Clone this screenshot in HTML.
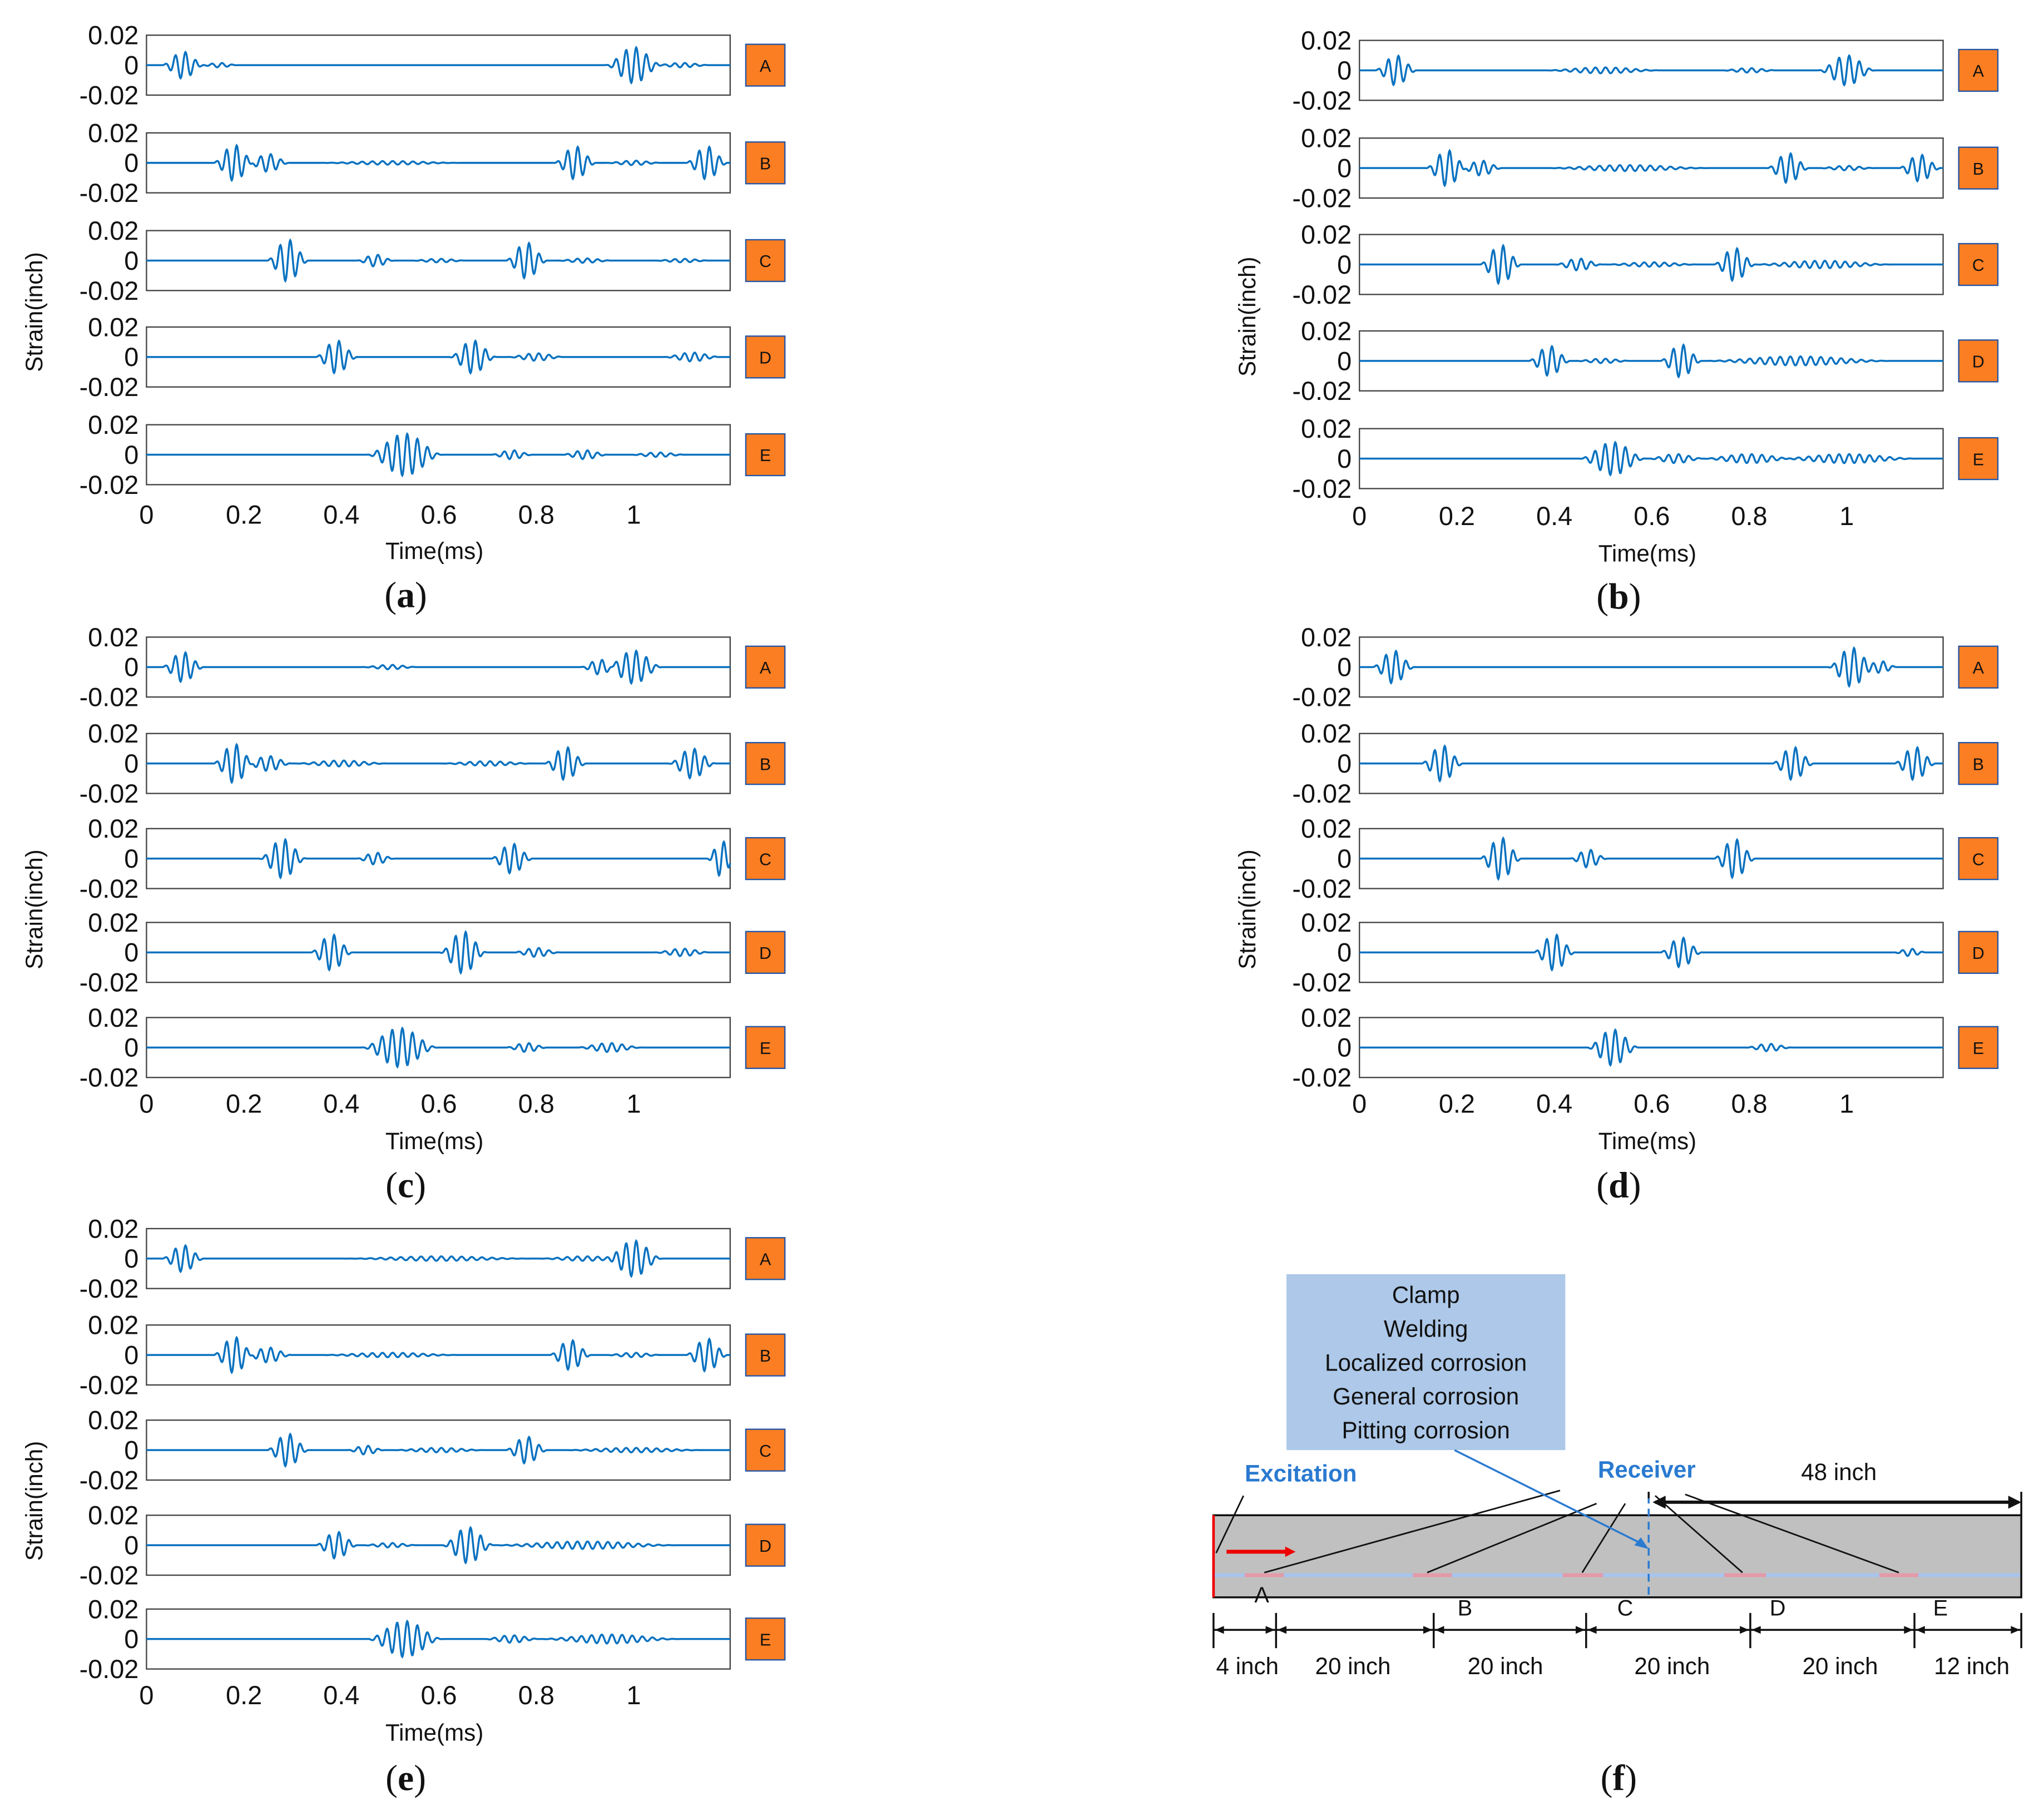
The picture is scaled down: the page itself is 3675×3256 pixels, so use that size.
<!DOCTYPE html>
<html><head><meta charset="utf-8"><style>
html,body{margin:0;padding:0;background:#fff}
svg{display:block}
text{font-family:"Liberation Sans",sans-serif}
.cap{font-family:"Liberation Serif",serif}
</style></head><body>
<svg id="fig" width="3675" height="3256" viewBox="0 0 1568 1390" xmlns="http://www.w3.org/2000/svg">
<rect width="1568" height="1390" fill="#fff"/>
<g id="plots"></g>
<g id="diagram">
  <rect x="987" y="978" width="214" height="135" fill="#adc8e8"/>
  <g font-size="18" text-anchor="middle" fill="#111">
    <text x="1094" y="1000">Clamp</text>
    <text x="1094" y="1026">Welding</text>
    <text x="1094" y="1052">Localized corrosion</text>
    <text x="1094" y="1078">General corrosion</text>
    <text x="1094" y="1104">Pitting corrosion</text>
  </g>
  <rect x="931" y="1163" width="620" height="63" fill="#c0c0c0" stroke="#111" stroke-width="1.5"/>
  <line x1="931" y1="1163" x2="931" y2="1226" stroke="#e00" stroke-width="2"/>
  <line x1="932" y1="1209" x2="1550" y2="1209" stroke="#a8c4ec" stroke-width="3"/>
  <g fill="#e39aab">
    <rect x="955" y="1207.5" width="30" height="3"/>
    <rect x="1084" y="1207.5" width="30" height="3"/>
    <rect x="1199" y="1207.5" width="31" height="3"/>
    <rect x="1323" y="1207.5" width="32" height="3"/>
    <rect x="1442" y="1207.5" width="30" height="3"/>
  </g>
  <line x1="941" y1="1191" x2="987" y2="1191" stroke="#e00" stroke-width="3"/>
  <polygon points="994,1191 986,1187 986,1195" fill="#e00"/>
  <line x1="1265" y1="1148" x2="1265" y2="1226" stroke="#2a7ad0" stroke-width="1.5" stroke-dasharray="6,4"/>
  <g stroke="#111" stroke-width="1.2">
    <line x1="1197" y1="1144" x2="970" y2="1207"/><line x1="1225" y1="1154" x2="1095" y2="1207"/>
    <line x1="1247" y1="1154" x2="1214" y2="1207"/><line x1="1270" y1="1148" x2="1337" y2="1207"/>
    <line x1="1293" y1="1147" x2="1457" y2="1207"/><line x1="954" y1="1148" x2="933" y2="1192"/>
  </g>
  <line x1="1116" y1="1113" x2="1262" y2="1186" stroke="#2a7ad0" stroke-width="1.5"/>
  <polygon points="1265,1189 1254,1186 1259,1180" fill="#2a7ad0"/>
  <line x1="1270" y1="1153" x2="1549" y2="1153" stroke="#111" stroke-width="2.5"/>
  <line x1="1551" y1="1145" x2="1551" y2="1163" stroke="#111" stroke-width="1.5"/>
  <line x1="1265" y1="1145" x2="1265" y2="1150" stroke="#111" stroke-width="1.5"/>
  <text x="955" y="1137" font-size="18" font-weight="bold" fill="#2a7ad0">Excitation</text>
  <text x="1226" y="1134" font-size="18" font-weight="bold" fill="#2a7ad0">Receiver</text>
  <text x="1411" y="1136" font-size="18" text-anchor="middle" fill="#111">48 inch</text>
  <g font-size="17" fill="#111" text-anchor="middle">
    <text x="968" y="1230">A</text><text x="1124" y="1240">B</text><text x="1247" y="1240">C</text><text x="1364" y="1240">D</text><text x="1489" y="1240">E</text>
  </g>
  <g id="dims" stroke="#111" stroke-width="1.5"></g>
  <g font-size="18" fill="#111" text-anchor="middle">
    <text x="957" y="1285">4 inch</text><text x="1038" y="1285">20 inch</text><text x="1155" y="1285">20 inch</text>
    <text x="1283" y="1285">20 inch</text><text x="1412" y="1285">20 inch</text><text x="1513" y="1285">12 inch</text>
  </g>
</g>
</svg>
<script>
const NS="http://www.w3.org/2000/svg";
const xTickValues=[0,0.2,0.4,0.6,0.8,1];
const xTickLabels=["0","0.2","0.4","0.6","0.8","1"];
const yTickValues=[0.02,0,-0.02];
const yTickLabels=["0.02","0","-0.02"];
const rowNames=["A","B","C","D","E"];
const panelLetters=["a","b","c","d","e"];
// wave packets: [center time ms, amplitude, width ms]
const packetsA=[
 [[0.075,0.009,0.09],[0.15,0.0015,0.08],[1.0,0.012,0.12],[1.1,0.0015,0.12]],
 [[0.18,0.012,0.09],[0.25,0.006,0.09],[0.5,0.0012,0.3],[0.88,0.011,0.09],[1.0,0.0015,0.12],[1.15,0.011,0.09]],
 [[0.29,0.014,0.09],[0.47,0.004,0.08],[0.6,0.0012,0.12],[0.78,0.012,0.09],[0.9,0.0015,0.12],[1.1,0.0012,0.12]],
 [[0.39,0.011,0.09],[0.67,0.011,0.1],[0.8,0.0025,0.12],[1.12,0.003,0.12]],
 [[0.53,0.014,0.16],[0.75,0.003,0.09],[0.9,0.003,0.1],[1.05,0.0015,0.12]]];
const packetsB=[
 [[0.075,0.01,0.09],[0.5,0.002,0.25],[0.8,0.0015,0.12],[1.0,0.01,0.12]],
 [[0.18,0.012,0.09],[0.25,0.005,0.09],[0.55,0.002,0.35],[0.88,0.01,0.09],[1.0,0.0015,0.12],[1.15,0.009,0.09]],
 [[0.29,0.013,0.09],[0.45,0.004,0.1],[0.6,0.0015,0.2],[0.77,0.011,0.09],[0.95,0.0025,0.3]],
 [[0.39,0.01,0.09],[0.5,0.0015,0.12],[0.66,0.011,0.09],[0.9,0.003,0.4]],
 [[0.52,0.011,0.14],[0.65,0.003,0.12],[0.8,0.003,0.2],[1.0,0.003,0.3]]];
const packetsC=[
 [[0.075,0.01,0.09],[0.5,0.0015,0.12],[1.0,0.011,0.12],[0.93,0.005,0.08]],
 [[0.18,0.013,0.09],[0.25,0.005,0.1],[0.4,0.002,0.2],[0.86,0.011,0.09],[0.7,0.0015,0.2],[1.12,0.01,0.1]],
 [[0.28,0.013,0.1],[0.47,0.004,0.08],[0.75,0.01,0.09],[1.18,0.012,0.06]],
 [[0.38,0.012,0.09],[0.65,0.014,0.1],[0.8,0.003,0.1],[1.1,0.0025,0.12]],
 [[0.52,0.013,0.16],[0.78,0.003,0.09],[0.95,0.003,0.14]]];
const packetsD=[
 [[0.07,0.011,0.09],[1.01,0.013,0.1],[1.07,0.004,0.07]],
 [[0.17,0.012,0.09],[0.89,0.011,0.09],[1.14,0.011,0.09]],
 [[0.29,0.014,0.09],[0.47,0.006,0.08],[0.77,0.013,0.09]],
 [[0.4,0.012,0.09],[0.66,0.01,0.09],[1.13,0.0025,0.07]],
 [[0.52,0.012,0.11],[0.84,0.0025,0.1]]];
const packetsE=[
 [[0.075,0.009,0.09],[0.6,0.0015,0.4],[0.9,0.0015,0.2],[1.0,0.012,0.12]],
 [[0.18,0.012,0.09],[0.25,0.005,0.1],[0.5,0.0015,0.3],[0.87,0.01,0.09],[1.0,0.0015,0.12],[1.15,0.011,0.09]],
 [[0.29,0.011,0.09],[0.45,0.003,0.08],[0.6,0.0015,0.2],[0.78,0.009,0.09],[1.0,0.0015,0.3]],
 [[0.39,0.009,0.09],[0.5,0.0015,0.12],[0.66,0.012,0.11],[0.9,0.0025,0.4]],
 [[0.53,0.012,0.16],[0.75,0.0025,0.12],[0.95,0.003,0.3]]];
const allPackets=[packetsA,packetsB,packetsC,packetsD,packetsE];
const FREQ=48; // cycles per ms

const panels=[
 {x0:112,c:[50,125,200,274,349],tick:402,time:429,cap:466,capx:311},
 {x0:1043,c:[54,129,203,277,352],tick:403,time:431,cap:467,capx:1242},
 {x0:112,c:[512,586,659,731,804],tick:854,time:882,cap:919,capx:311},
 {x0:1043,c:[512,586,659,731,804],tick:854,time:882,cap:919,capx:1242},
 {x0:112,c:[966,1040,1113,1186,1258],tick:1308,time:1336,cap:1374,capx:311}];
const W=448,H=46,TMAX=448/374;
const root=document.getElementById('plots');
function el(tag,attrs,parent,txt){const e=document.createElementNS(NS,tag);for(const k in attrs)e.setAttribute(k,attrs[k]);if(txt!==undefined)e.textContent=txt;parent.appendChild(e);return e;}
function signal(pk,t){let s=0;for(const [tc,a,w] of pk){const d=t-tc;if(Math.abs(d)<w/2){s+=a*0.5*(1+Math.cos(2*Math.PI*d/w))*Math.sin(2*Math.PI*FREQ*d);}}return s;}
panels.forEach((p,pi)=>{
  const g=el('g',{},root);
  
  
  const xs=t=>p.x0+t/TMAX*W;
  p.c.forEach((cy,ri)=>{
    const top=cy-H/2;
    const ys=v=>cy-v/0.02*(H/2);
    const box=el('rect',{x:p.x0,y:top,width:W,height:H,fill:'#fff',stroke:'#444','stroke-width':1},g);
    
    
    yTickValues.forEach((v,k)=>{
      const t=el('text',{x:p.x0-6,y:ys(v)+7,'font-size':20,'text-anchor':'end',fill:'#111'},g,yTickLabels[k]);
      
      
    });
    let d='';const pk=allPackets[pi][ri];
    for(let i=0;i<=1198;i++){const t=i*0.001;d+=(i?'L':'M')+xs(t).toFixed(2)+','+ys(signal(pk,t)).toFixed(2);}
    const path=el('path',{d:d,fill:'none',stroke:'#0a72c0','stroke-width':1.5},g);
    
    
    const lb=el('rect',{x:p.x0+460,y:cy-16,width:30,height:32,fill:'#fb7e22',stroke:'#2455a4','stroke-width':1},g);
    
    
    const lt=el('text',{x:p.x0+475,y:cy+5,'font-size':13,'text-anchor':'middle',fill:'#111'},g,rowNames[ri]);
    
    
  });
  xTickValues.forEach((v,k)=>{
    const t=el('text',{x:xs(v),y:p.tick,'font-size':20,'text-anchor':'middle',fill:'#111'},g,xTickLabels[k]);
    
    
  });
  const xl=el('text',{x:p.x0+221,y:p.time,'font-size':18,'text-anchor':'middle',fill:'#111'},g,'Time(ms)');
  
  
  const yx=p.x0-80,yy=(p.c[0]+p.c[4])/2+40;
  const yl=el('text',{x:yx,y:yy,'font-size':18,'text-anchor':'middle',fill:'#111',transform:`rotate(-90 ${yx} ${yy})`},g,'Strain(inch)');
  
  
  const cap=el('text',{x:p.capx,y:p.cap,'font-size':28,'text-anchor':'middle',fill:'#111','class':'cap'},g);
  
  
  cap.innerHTML='(<tspan font-weight="bold">'+panelLetters[pi]+'</tspan>)';
});
const fc=el('text',{x:1242,y:1374,'font-size':28,'text-anchor':'middle',fill:'#111','class':'cap'},document.getElementById('diagram'));


fc.innerHTML='(<tspan font-weight="bold">f</tspan>)';
const dims=document.getElementById('dims');
const dimX=[931,979,1100,1217,1343,1469,1551];
dimX.forEach(x=>el('line',{x1:x,y1:1238,x2:x,y2:1265},dims));
el('line',{x1:931,y1:1251,x2:1551,y2:1251},dims);
for(let i=0;i<dimX.length-1;i++){const a=dimX[i],b=dimX[i+1];
 el('polygon',{points:`${a+1},1251 ${a+8},1248 ${a+8},1254`,fill:'#111',stroke:'none'},dims);
 el('polygon',{points:`${b-1},1251 ${b-8},1248 ${b-8},1254`,fill:'#111',stroke:'none'},dims);}
el('polygon',{points:'1268,1153 1278,1148 1278,1158',fill:'#111'},document.getElementById('diagram'));
el('polygon',{points:'1551,1153 1541,1148 1541,1158',fill:'#111'},document.getElementById('diagram'));
</script>
</body></html>
